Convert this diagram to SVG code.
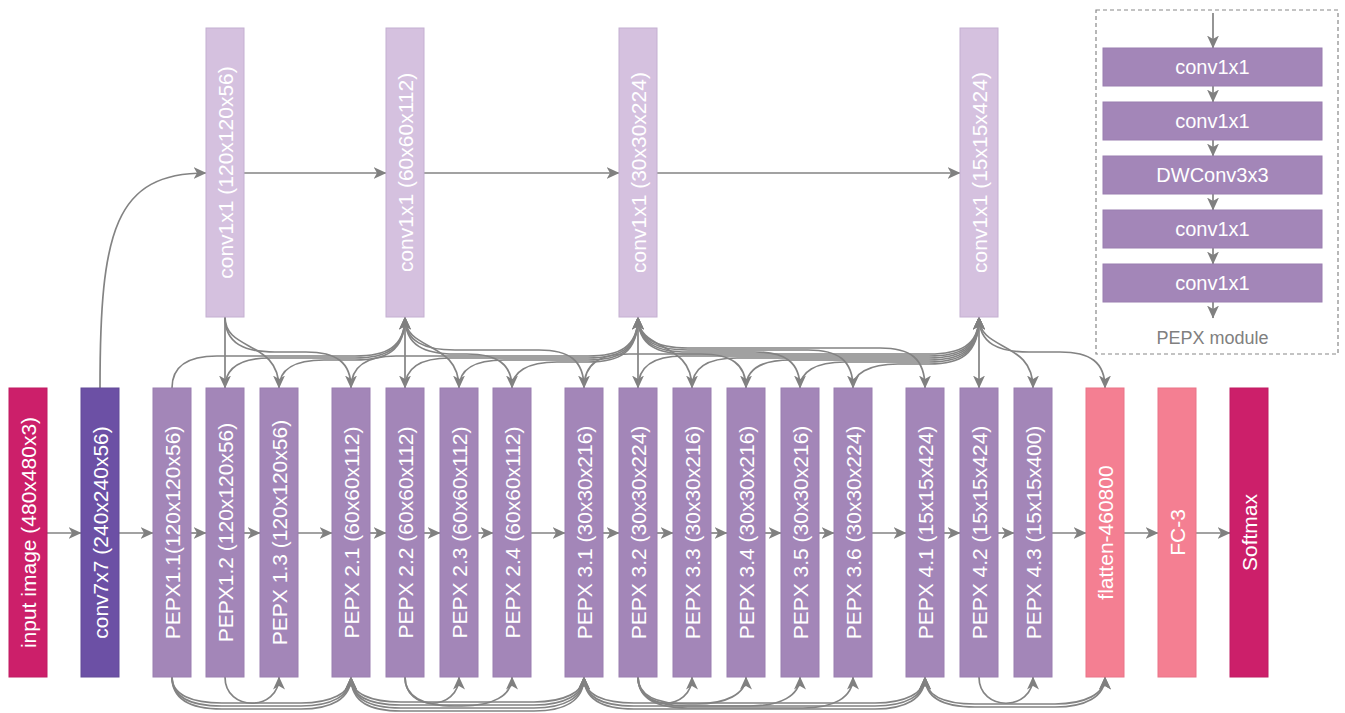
<svg xmlns="http://www.w3.org/2000/svg" width="1345" height="713" viewBox="0 0 1345 713">
<defs>
<marker id="ah" markerUnits="userSpaceOnUse" markerWidth="14" markerHeight="13" refX="12.5" refY="6" orient="auto">
<path d="M0,0 L13,6 L0,12 L3.5,6 z" fill="#808080"/>
</marker>
<style>
.c{fill:none;stroke:#838383;stroke-width:1.7;marker-end:url(#ah)}
.b{stroke-width:1}
.pepx{fill:#a386b8;stroke:#9a7fb0}
.top{fill:#d5c1df;stroke:#c4afd1}
.inp{fill:#cc1f6a;stroke:#c01c63}
.c7{fill:#6c50a5;stroke:#634a98}
.pink{fill:#f47f92;stroke:#ea7588}
.t{font-family:"Liberation Sans",Arial,sans-serif;font-size:21px;fill:#ffffff;text-anchor:middle}
.lt{font-family:"Liberation Sans",Arial,sans-serif;font-size:20px;fill:#ffffff;text-anchor:middle}
.cap{font-family:"Liberation Sans",Arial,sans-serif;font-size:18px;fill:#808080;text-anchor:middle}
</style>
</defs>
<rect width="1345" height="713" fill="#ffffff"/>

<g id="connectors">
<path class="c" d="M46,533 L81,533"/>
<path class="c" d="M118,533 L153,533"/>
<path class="c" d="M191,533 L206,533"/>
<path class="c" d="M244,533 L260,533"/>
<path class="c" d="M298,533 L332,533"/>
<path class="c" d="M370,533 L386,533"/>
<path class="c" d="M424,533 L440,533"/>
<path class="c" d="M478,533 L493,533"/>
<path class="c" d="M531,533 L565,533"/>
<path class="c" d="M603,533 L619,533"/>
<path class="c" d="M657,533 L673,533"/>
<path class="c" d="M711,533 L727,533"/>
<path class="c" d="M765,533 L781,533"/>
<path class="c" d="M819,533 L834,533"/>
<path class="c" d="M872,533 L906,533"/>
<path class="c" d="M944,533 L960,533"/>
<path class="c" d="M998,533 L1014,533"/>
<path class="c" d="M1052,533 L1086,533"/>
<path class="c" d="M1124,533 L1158,533"/>
<path class="c" d="M1196,533 L1230,533"/>
<path class="c" d="M100,388 C100,230 115,173 206,173"/>
<path class="c" d="M244,173 L386,173"/>
<path class="c" d="M424,173 L619,173"/>
<path class="c" d="M657,173 L960,173"/>
<path class="c" d="M225,317 L225,388"/>
<path class="c" d="M405,317 L405,388"/>
<path class="c" d="M638,317 L638,388"/>
<path class="c" d="M979,317 L979,388"/>
<path class="c" d="M225,317 C225,352 279,340 279,388"/>
<path class="c" d="M405,317 C405,352 459,340 459,388"/>
<path class="c" d="M638,317 C638,352 692,340 692,388"/>
<path class="c" d="M979,317 C979,352 1033,340 1033,388"/>
<path class="c" d="M225,317 C225,344 245,352 275,352 L306,352 C336,352 351,362 351,388"/>
<path class="c" d="M405,317 C405,346 425,354 455,354 L467,354 C497,354 512,364 512,388"/>
<path class="c" d="M405,317 C405,342 425,350 455,350 L539,350 C569,350 584,360 584,388"/>
<path class="c" d="M638,317 C638,346 658,354 688,354 L701,354 C731,354 746,364 746,388"/>
<path class="c" d="M638,317 C638,344 658,352 688,352 L755,352 C785,352 800,362 800,388"/>
<path class="c" d="M638,317 C638,342 658,350 688,350 L808,350 C838,350 853,360 853,388"/>
<path class="c" d="M638,317 C638,340 658,348 688,348 L880,348 C910,348 925,358 925,388"/>
<path class="c" d="M979,317 C979,344 999,352 1029,352 L1060,352 C1090,352 1105,362 1105,388"/>
<path class="c" d="M172,388 C172,366 187,356 217,356 L355,356 C385,356 405,348 405,317"/>
<path class="c" d="M225,388 C225,368 240,358 270,358 L355,358 C385,358 405,350 405,317"/>
<path class="c" d="M279,388 C279,370 294,360 324,360 L355,360 C385,360 405,352 405,317"/>
<path class="c" d="M351,388 C351,366 366,356 396,356 L588,356 C618,356 638,348 638,317"/>
<path class="c" d="M405,388 C405,368 420,358 450,358 L588,358 C618,358 638,350 638,317"/>
<path class="c" d="M459,388 C459,370 474,360 504,360 L588,360 C618,360 638,352 638,317"/>
<path class="c" d="M512,388 C512,372 527,362 557,362 L588,362 C618,362 638,354 638,317"/>
<path class="c" d="M584,388 C584,364 599,354 629,354 L929,354 C959,354 979,346 979,317"/>
<path class="c" d="M638,388 C638,366 653,356 683,356 L929,356 C959,356 979,348 979,317"/>
<path class="c" d="M692,388 C692,368 707,358 737,358 L929,358 C959,358 979,350 979,317"/>
<path class="c" d="M746,388 C746,370 761,360 791,360 L929,360 C959,360 979,352 979,317"/>
<path class="c" d="M800,388 C800,372 815,362 845,362 L929,362 C959,362 979,354 979,317"/>
<path class="c" d="M853,388 C853,374 868,364 898,364 L929,364 C959,364 979,356 979,317"/>
<path class="c" d="M225,677 C225,712 279,712 279,677"/>
<path class="c" d="M172,677 C172,695 192,703 222,703 L301,703 C331,703 351,693 351,677"/>
<path class="c" d="M172,677 C172,698 192,706 222,706 L301,706 C331,706 351,696 351,677"/>
<path class="c" d="M172,677 C172,701 192,709 222,709 L301,709 C331,709 351,699 351,677"/>
<path class="c" d="M405,677 C405,712 459,712 459,677"/>
<path class="c" d="M405,677 C405,698 425,706 455,706 L462,706 C492,706 512,696 512,677"/>
<path class="c" d="M351,677 C351,694 371,702 401,702 L534,702 C564,702 584,692 584,677"/>
<path class="c" d="M351,677 C351,697 371,705 401,705 L534,705 C564,705 584,695 584,677"/>
<path class="c" d="M351,677 C351,700 371,708 401,708 L534,708 C564,708 584,698 584,677"/>
<path class="c" d="M351,677 C351,703 371,711 401,711 L534,711 C564,711 584,701 584,677"/>
<path class="c" d="M638,677 C638,712 692,712 692,677"/>
<path class="c" d="M638,677 C638,696 658,704 688,704 L696,704 C726,704 746,694 746,677"/>
<path class="c" d="M638,677 C638,698 658,706 688,706 L750,706 C780,706 800,696 800,677"/>
<path class="c" d="M638,677 C638,700 658,708 688,708 L803,708 C833,708 853,698 853,677"/>
<path class="c" d="M584,677 C584,695 604,703 634,703 L875,703 C905,703 925,693 925,677"/>
<path class="c" d="M584,677 C584,698 604,706 634,706 L875,706 C905,706 925,696 925,677"/>
<path class="c" d="M584,677 C584,701 604,709 634,709 L875,709 C905,709 925,699 925,677"/>
<path class="c" d="M979,677 C979,712 1033,712 1033,677"/>
<path class="c" d="M925,677 C925,696 945,704 975,704 L1055,704 C1085,704 1105,694 1105,677"/>
<path class="c" d="M925,677 C925,699 945,707 975,707 L1055,707 C1085,707 1105,697 1105,677"/>
<path class="c" d="M1213,13 L1213,48"/>
<path class="c" d="M1213,86 L1213,102"/>
<path class="c" d="M1213,140 L1213,156"/>
<path class="c" d="M1213,194 L1213,210"/>
<path class="c" d="M1213,248 L1213,264"/>
<path class="c" d="M1213,302 L1213,318"/>
</g>

<g id="legend">
<rect x="1096" y="10" width="242" height="344" fill="none" stroke="#888888" stroke-width="1.2" stroke-dasharray="4,3"/>
<rect class="pepx b" x="1103" y="48" width="219" height="38"/>
<text class="lt" x="1212.5" y="74">conv1x1</text>
<rect class="pepx b" x="1103" y="102" width="219" height="38"/>
<text class="lt" x="1212.5" y="128">conv1x1</text>
<rect class="pepx b" x="1103" y="156" width="219" height="38"/>
<text class="lt" x="1212.5" y="182">DWConv3x3</text>
<rect class="pepx b" x="1103" y="210" width="219" height="38"/>
<text class="lt" x="1212.5" y="236">conv1x1</text>
<rect class="pepx b" x="1103" y="264" width="219" height="38"/>
<text class="lt" x="1212.5" y="290">conv1x1</text>
<text class="cap" x="1212.5" y="344">PEPX module</text>
</g>

<g id="T1"><rect class="top b" x="206" y="28" width="38" height="289"/><text class="t" transform="translate(225,172.5) rotate(-90)" y="7.5">conv1x1 (120x120x56)</text></g>
<g id="T2"><rect class="top b" x="386" y="28" width="38" height="289"/><text class="t" transform="translate(405,172.5) rotate(-90)" y="7.5">conv1x1 (60x60x112)</text></g>
<g id="T3"><rect class="top b" x="619" y="28" width="38" height="289"/><text class="t" transform="translate(638,172.5) rotate(-90)" y="7.5">conv1x1 (30x30x224)</text></g>
<g id="T4"><rect class="top b" x="960" y="28" width="38" height="289"/><text class="t" transform="translate(979,172.5) rotate(-90)" y="7.5">conv1x1 (15x15x424)</text></g>

<g id="input"><rect class="inp b" x="9" y="388" width="38" height="289"/><text class="t" transform="translate(28,532.5) rotate(-90)" y="7.5">input image (480x480x3)</text></g>
<g id="conv7x7"><rect class="c7 b" x="81" y="388" width="38" height="289"/><text class="t" transform="translate(100,532.5) rotate(-90)" y="7.5">conv7x7 (240x240x56)</text></g>
<g id="P1_1"><rect class="pepx b" x="153" y="388" width="38" height="289"/><text class="t" transform="translate(172,532.5) rotate(-90)" y="7.5">PEPX1.1(120x120x56)</text></g>
<g id="P1_2"><rect class="pepx b" x="206" y="388" width="38" height="289"/><text class="t" transform="translate(225,532.5) rotate(-90)" y="7.5">PEPX1.2 (120x120x56)</text></g>
<g id="P1_3"><rect class="pepx b" x="260" y="388" width="38" height="289"/><text class="t" transform="translate(279,532.5) rotate(-90)" y="7.5">PEPX 1.3 (120x120x56)</text></g>
<g id="P2_1"><rect class="pepx b" x="332" y="388" width="38" height="289"/><text class="t" transform="translate(351,532.5) rotate(-90)" y="7.5">PEPX 2.1 (60x60x112)</text></g>
<g id="P2_2"><rect class="pepx b" x="386" y="388" width="38" height="289"/><text class="t" transform="translate(405,532.5) rotate(-90)" y="7.5">PEPX 2.2 (60x60x112)</text></g>
<g id="P2_3"><rect class="pepx b" x="440" y="388" width="38" height="289"/><text class="t" transform="translate(459,532.5) rotate(-90)" y="7.5">PEPX 2.3 (60x60x112)</text></g>
<g id="P2_4"><rect class="pepx b" x="493" y="388" width="38" height="289"/><text class="t" transform="translate(512,532.5) rotate(-90)" y="7.5">PEPX 2.4 (60x60x112)</text></g>
<g id="P3_1"><rect class="pepx b" x="565" y="388" width="38" height="289"/><text class="t" transform="translate(584,532.5) rotate(-90)" y="7.5">PEPX 3.1 (30x30x216)</text></g>
<g id="P3_2"><rect class="pepx b" x="619" y="388" width="38" height="289"/><text class="t" transform="translate(638,532.5) rotate(-90)" y="7.5">PEPX 3.2 (30x30x224)</text></g>
<g id="P3_3"><rect class="pepx b" x="673" y="388" width="38" height="289"/><text class="t" transform="translate(692,532.5) rotate(-90)" y="7.5">PEPX 3.3 (30x30x216)</text></g>
<g id="P3_4"><rect class="pepx b" x="727" y="388" width="38" height="289"/><text class="t" transform="translate(746,532.5) rotate(-90)" y="7.5">PEPX 3.4 (30x30x216)</text></g>
<g id="P3_5"><rect class="pepx b" x="781" y="388" width="38" height="289"/><text class="t" transform="translate(800,532.5) rotate(-90)" y="7.5">PEPX 3.5 (30x30x216)</text></g>
<g id="P3_6"><rect class="pepx b" x="834" y="388" width="38" height="289"/><text class="t" transform="translate(853,532.5) rotate(-90)" y="7.5">PEPX 3.6 (30x30x224)</text></g>
<g id="P4_1"><rect class="pepx b" x="906" y="388" width="38" height="289"/><text class="t" transform="translate(925,532.5) rotate(-90)" y="7.5">PEPX 4.1 (15x15x424)</text></g>
<g id="P4_2"><rect class="pepx b" x="960" y="388" width="38" height="289"/><text class="t" transform="translate(979,532.5) rotate(-90)" y="7.5">PEPX 4.2 (15x15x424)</text></g>
<g id="P4_3"><rect class="pepx b" x="1014" y="388" width="38" height="289"/><text class="t" transform="translate(1033,532.5) rotate(-90)" y="7.5">PEPX 4.3 (15x15x400)</text></g>
<g id="flatten"><rect class="pink b" x="1086" y="388" width="38" height="289"/><text class="t" transform="translate(1105,532.5) rotate(-90)" y="7.5">flatten-460800</text></g>
<g id="fc3"><rect class="pink b" x="1158" y="388" width="38" height="289"/><text class="t" transform="translate(1177,532.5) rotate(-90)" y="7.5">FC-3</text></g>
<g id="softmax"><rect class="inp b" x="1230" y="388" width="38" height="289"/><text class="t" transform="translate(1249,532.5) rotate(-90)" y="7.5">Softmax</text></g>
</svg>
